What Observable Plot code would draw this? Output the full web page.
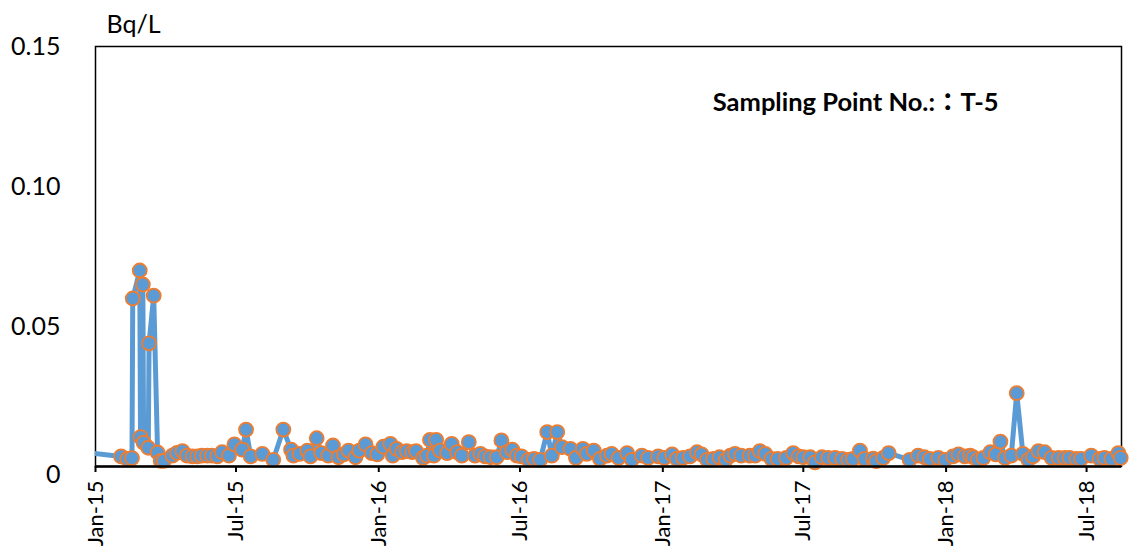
<!DOCTYPE html>
<html>
<head>
<meta charset="utf-8">
<script src="https://cdn.jsdelivr.net/npm/d3@7"></script>
<script src="https://cdn.jsdelivr.net/npm/@observablehq/plot@0.6"></script>
<style>
  html, body { margin: 0; padding: 0; background: #fff; overflow: hidden; }
  #chart { width: 1129px; height: 549px; }
</style>
</head>
<body>
<div id="chart"></div>
<script>
// Sampling dates (the first one lies before the visible axis start, its line enters from the left)
const dates = [
  "2014-12-20",
  "2015-02-03","2015-02-11","2015-02-17","2015-02-18","2015-02-27","2015-02-28","2015-03-03","2015-03-04",
  "2015-03-10","2015-03-11","2015-03-17","2015-03-22","2015-03-26","2015-03-30","2015-04-10","2015-04-16",
  "2015-04-23","2015-04-29","2015-05-06","2015-05-12","2015-05-18","2015-05-25","2015-05-31","2015-06-07",
  "2015-06-13","2015-06-22","2015-06-29","2015-07-09","2015-07-14","2015-07-20","2015-08-04","2015-08-18",
  "2015-08-31","2015-09-10","2015-09-13","2015-09-21","2015-10-01","2015-10-05","2015-10-13","2015-10-19",
  "2015-10-28","2015-11-03","2015-11-10","2015-11-17","2015-11-23","2015-12-02","2015-12-07","2015-12-15",
  "2015-12-23","2015-12-30",
  "2016-01-07","2016-01-16","2016-01-19","2016-01-24","2016-01-31","2016-02-06","2016-02-13","2016-02-18",
  "2016-02-27","2016-03-03","2016-03-07","2016-03-12","2016-03-15","2016-03-20","2016-03-29","2016-04-04",
  "2016-04-11","2016-04-17","2016-04-26","2016-05-04","2016-05-11","2016-05-17","2016-05-24","2016-06-01",
  "2016-06-07","2016-06-14","2016-06-21","2016-06-27","2016-07-03","2016-07-12","2016-07-19","2016-07-27",
  "2016-08-05","2016-08-11","2016-08-18","2016-08-24","2016-09-04","2016-09-11","2016-09-20","2016-09-25",
  "2016-10-04","2016-10-12","2016-10-21","2016-10-27","2016-11-05","2016-11-16","2016-11-22","2016-12-05",
  "2016-12-13","2016-12-26",
  "2017-01-03","2017-01-13","2017-01-19","2017-01-27","2017-02-05","2017-02-14","2017-02-20","2017-02-27",
  "2017-03-07","2017-03-15","2017-03-23","2017-03-29","2017-04-04","2017-04-12","2017-04-23","2017-04-30",
  "2017-05-06","2017-05-13","2017-05-21","2017-05-29","2017-06-09","2017-06-18","2017-06-25","2017-07-01",
  "2017-07-10","2017-07-16","2017-07-25","2017-08-02","2017-08-11","2017-08-20","2017-08-28","2017-09-03",
  "2017-09-12","2017-09-18","2017-09-29","2017-10-03","2017-10-12","2017-10-19","2017-11-15","2017-11-26",
  "2017-12-04","2017-12-11","2017-12-22","2017-12-31",
  "2018-01-10","2018-01-17","2018-01-25","2018-02-01","2018-02-05","2018-02-11","2018-02-18","2018-02-27",
  "2018-03-06","2018-03-12","2018-03-18","2018-03-26","2018-04-02","2018-04-10","2018-04-17","2018-04-23",
  "2018-04-30","2018-05-08","2018-05-17","2018-05-26","2018-06-03","2018-06-09","2018-06-18","2018-06-24",
  "2018-07-07","2018-07-18","2018-07-24","2018-08-02","2018-08-11","2018-08-14"
];

// Measured concentration (Bq/L)
const values = [
  0.0050,
  0.0036,0.0027,0.0030,0.0600,0.0700,0.0105,0.0650,0.0085,
  0.0067,0.0440,0.0610,0.0050,0.0020,0.0020,0.0039,0.0049,
  0.0055,0.0039,0.0036,0.0036,0.0039,0.0039,0.0039,0.0036,
  0.0051,0.0039,0.0079,0.0060,0.0132,0.0036,0.0045,0.0024,
  0.0132,0.0060,0.0039,0.0045,0.0057,0.0036,0.0101,0.0048,
  0.0039,0.0075,0.0033,0.0043,0.0057,0.0033,0.0057,0.0079,
  0.0048,0.0043,
  0.0071,0.0081,0.0039,0.0063,0.0051,0.0055,0.0051,0.0055,
  0.0031,0.0039,0.0095,0.0039,0.0095,0.0057,0.0048,0.0081,
  0.0051,0.0039,0.0087,0.0039,0.0045,0.0036,0.0033,0.0033,
  0.0093,0.0051,0.0060,0.0039,0.0036,0.0024,0.0027,0.0024,
  0.0123,0.0039,0.0123,0.0069,0.0063,0.0031,0.0063,0.0045,
  0.0057,0.0027,0.0039,0.0045,0.0031,0.0048,0.0024,0.0039,
  0.0031,0.0036,
  0.0031,0.0043,0.0027,0.0031,0.0036,0.0051,0.0043,0.0024,
  0.0027,0.0033,0.0024,0.0039,0.0045,0.0039,0.0039,0.0039,
  0.0055,0.0045,0.0027,0.0027,0.0031,0.0048,0.0036,0.0033,
  0.0033,0.0015,0.0033,0.0031,0.0031,0.0027,0.0024,0.0027,
  0.0057,0.0027,0.0028,0.0019,0.0031,0.0048,0.0024,0.0039,
  0.0033,0.0027,0.0031,0.0024,
  0.0036,0.0043,0.0036,0.0039,0.0033,0.0024,0.0031,0.0051,
  0.0043,0.0089,0.0031,0.0039,0.0262,0.0045,0.0024,0.0036,
  0.0055,0.0051,0.0031,0.0031,0.0031,0.0031,0.0027,0.0027,
  0.0039,0.0027,0.0031,0.0027,0.0048,0.0031
];

const xTicks = ["2015-01-01","2015-07-01","2016-01-01","2016-07-01","2017-01-01","2017-07-01","2018-01-01","2018-07-01"];
const yTicks = [0.05, 0.10, 0.15];
const yTickLabels = ["0.05", "0.10", "0.15"];
const zeroLabel = ["0"];
const unitLabel = ["Bq/L"];
const titleText = ["Sampling Point No.:\uFF1AT-5"];
const xDomain = ["2015-01-01", "2018-08-15"];

const data = dates.map((d, i) => ({date: new Date(d), value: values[i]}));
const start = new Date(xDomain[0]);

const chart = Plot.plot({
  width: 1129,
  height: 549,
  marginLeft: 95,
  marginRight: 8,
  marginTop: 46,
  marginBottom: 83,
  style: {fontFamily: "Lato, 'Noto Sans CJK JP', sans-serif", background: "white", color: "black"},
  x: {type: "utc", domain: xDomain.map(d => new Date(d))},
  y: {domain: [0, 0.15]},
  marks: [
    Plot.frame({stroke: "black", strokeWidth: 1.5}),
    Plot.lineY(data, {x: "date", y: "value", stroke: "#5B9BD5", strokeWidth: 5, strokeLinejoin: "round", clip: true}),
    Plot.dot(data.filter(d => d.date >= start), {x: "date", y: "value", r: 7, fill: "#5B9BD5", stroke: "#ED7D31", strokeWidth: 1.8}),
    Plot.ruleY([0], {stroke: "black", strokeWidth: 2.5}),
    Plot.axisX({
      ticks: xTicks.map(d => new Date(d)),
      tickFormat: d3.utcFormat("%b-%y"),
      tickRotate: -90,
      tickSize: 6,
      tickPadding: 8,
      strokeWidth: 2,
      fontSize: 22,
      label: null
    }),
    Plot.axisY({
      ticks: yTicks,
      tickFormat: (d, i) => yTickLabels[i],
      tickSize: 0,
      tickPadding: 35,
      fontSize: 25,
      label: null
    }),
    Plot.text(zeroLabel, {text: d => d, frameAnchor: "bottom-left", lineAnchor: "middle", dx: -49.5, dy: 8, fontSize: 25}),
    Plot.text(unitLabel, {text: d => d, frameAnchor: "top-left", lineAnchor: "middle", dx: 11, dy: -22, fontSize: 25}),
    Plot.text(titleText, {text: d => d, frameAnchor: "top-right", lineAnchor: "middle", textAnchor: "end", dx: -123, dy: 56, fontSize: 25.5, fontWeight: "bold"})
  ]
});
document.getElementById("chart").appendChild(chart);
</script>
</body>
</html>
